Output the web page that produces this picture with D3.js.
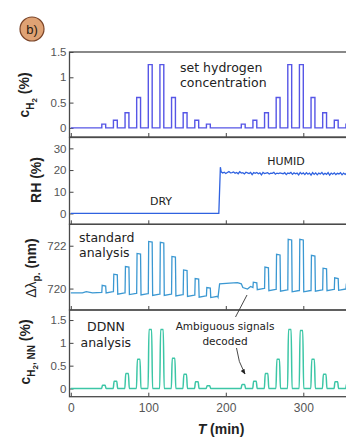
<!DOCTYPE html>
<html>
<head>
<meta charset="utf-8">
<script src="https://cdn.jsdelivr.net/npm/d3@7"></script>
<style>
  body { margin: 0; background: #fff; }
  svg { display: block; }
</style>
</head>
<body>
<div id="chart"></div>
<script>
// pulse schedule (min) and set hydrogen concentration (%)
const pulseStart = [40, 55, 70, 85, 100, 115, 130, 145, 160, 175, 220, 235, 250, 265, 280, 295, 310, 325, 340, 355]
const setH2 = [0.075, 0.15, 0.3, 0.6, 1.25, 1.25, 0.6, 0.3, 0.15, 0.075, 0.075, 0.15, 0.3, 0.6, 1.25, 1.25, 0.6, 0.3, 0.15, 0.075]
// DDNN decoded concentration (%)
const nnH2 = [0.07, 0.16, 0.33, 0.64, 1.29, 1.29, 0.66, 0.31, 0.15, 0.06, 0.09, 0.16, 0.33, 0.64, 1.29, 1.27, 0.64, 0.31, 0.15, 0.1]

// relative humidity
const rhDry = [[0, 0], [191, 0]]
const rhStep = [193, 21.3]
const rhHumidStart = 194
const rhHumidStep = 2
const rhHumid = [19.2, 18.6, 19.0, 18.4, 18.9, 19.3, 18.7, 18.8, 19.1, 18.5,
  18.9, 18.3, 19.2, 18.6, 18.8, 18.2, 19.0, 18.7, 18.4, 18.9,
  17.9, 18.8, 18.5, 18.9, 18.3, 18.7, 17.8, 18.9, 18.4, 18.6,
  18.8, 18.2, 18.6, 18.5, 18.9, 18.1, 18.6, 18.4, 18.7, 18.5,
  18.3, 18.8, 17.9, 18.6, 18.4, 18.9, 18.0, 18.7, 18.3, 18.6,
  17.8, 18.9, 18.2, 18.7, 17.9, 18.8, 18.1, 18.6, 17.7, 18.8,
  18.0, 18.7, 17.8, 18.6, 18.2, 18.9, 17.9, 18.5, 18.0, 18.8,
  17.7, 18.6, 18.1, 18.7, 17.9, 18.5, 18.2, 18.8, 17.8, 18.6,
  18.0, 18.7, 17.9, 18.5]

// standard analysis: peak wavelength (nm)
const stdLead = [[0, 719.8], [15, 719.8], [20, 719.86], [28, 719.8], [40, 719.82]]
const std1Start = [40, 55, 70, 85, 100, 115, 130, 145, 160, 175]
const std1Top = [720.15, 720.67, 721.03, 721.64, 722.2, 722.16, 721.5, 720.87, 720.47, 720.05]
const std1Base = [719.8, 719.74, 719.72, 719.7, 719.68, 719.68, 719.66, 719.63, 719.6, 719.58]
const stdGap = [[190, 719.6], [192, 720.22], [205, 720.25], [215, 720.28], [220, 720.22], [222, 720.05], [228, 719.98], [232, 720.1], [235, 720.05]]
const std2Start = [235, 250, 265, 280, 295, 310, 325, 340, 355]
const std2Top = [720.3, 721.0, 721.6, 722.3, 722.3, 721.55, 720.95, 720.5, 720.2]
const std2Base = [719.95, 719.9, 719.88, 719.85, 719.85, 719.88, 719.9, 719.92, 719.95]

const xTicks = [0, 100, 200, 300]

const width = 346, height = 437
const svg = d3.select("#chart").append("svg")
  .attr("width", width)
  .attr("height", height)

const x = d3.scaleLinear().domain([0, 360]).range([70.8, 349.8])
const frameLeft = 69.5, frameRight = 352

const panels = [
  { domain: [-0.18, 1.5], range: [137, 52], ticks: [0, 0.5, 1, 1.5] },
  { domain: [-5, 35], range: [224.3, 137.5], ticks: [0, 10, 20, 30] },
  { domain: [719, 723], range: [310, 224.3], ticks: [720, 722] },
  { domain: [-0.18, 1.72], range: [396.7, 310], ticks: [0, 0.5, 1, 1.5] }
]
panels.forEach(p => p.y = d3.scaleLinear().domain(p.domain).range(p.range))

const fmt = d => String(d)

panels.forEach(function (p, i) {
  const g = svg.append("g")
  // y axis with inward ticks
  const ya = g.append("g")
    .attr("transform", "translate(" + frameLeft + ",0)")
    .call(d3.axisLeft(p.y).tickValues(p.ticks).tickFormat(fmt).tickSize(-4).tickPadding(3))
  ya.select(".domain").remove()
  ya.selectAll("line").attr("stroke", "#444")
  ya.selectAll("text").attr("fill", "#555").style("font-family", "Liberation Sans, Arial, sans-serif").style("font-size", "11.5px")

  // x ticks at bottom of each panel
  const xa = g.append("g")
    .attr("transform", "translate(0," + p.range[0] + ")")
    .call(d3.axisBottom(x).tickValues(xTicks).tickSize(-4).tickPadding(7).tickFormat(i == 3 ? fmt : ""))
  xa.select(".domain").remove()
  xa.selectAll("line").attr("stroke", "#444")
  xa.selectAll("text").attr("fill", "#555").style("font-family", "Liberation Sans, Arial, sans-serif").style("font-size", "12px")

  g.append("rect")
    .attr("x", frameLeft)
    .attr("y", p.range[1])
    .attr("width", frameRight - frameLeft)
    .attr("height", p.range[0] - p.range[1])
    .attr("fill", "none")
    .attr("stroke", "#4a4a4a")
    .attr("stroke-width", 1.3)
})

// panel 1: set concentration (square pulses)
let setPts = [[0, 0]]
pulseStart.forEach(function (s, i) {
  setPts.push([s, 0], [s, setH2[i]], [s + 5, setH2[i]], [s + 5, 0])
})
setPts.push([360, 0])
svg.append("path")
  .datum(setPts)
  .attr("fill", "none")
  .attr("stroke", "#5656e6")
  .attr("stroke-width", 1.4)
  .attr("d", d3.line().x(d => x(d[0])).y(d => panels[0].y(d[1])))

// panel 2: RH
let rhPts = rhDry.concat([rhStep])
rhHumid.forEach((v, i) => rhPts.push([rhHumidStart + i * rhHumidStep, v]))
svg.append("path")
  .datum(rhPts)
  .attr("fill", "none")
  .attr("stroke", "#2f62e0")
  .attr("stroke-width", 1.3)
  .attr("d", d3.line().x(d => x(d[0])).y(d => panels[1].y(d[1])))

// panel 3: standard analysis
function stdPulses(starts, tops, bases, prev) {
  let pts = []
  starts.forEach(function (s, i) {
    pts.push([s, prev], [s + 0.5, tops[i]], [s + 5, tops[i] - 0.03], [s + 5.6, bases[i]], [s + 14.5, bases[i] + 0.06])
    prev = bases[i] + 0.06
  })
  return pts
}
let stdPts = stdLead.slice(0, -1)
  .concat(stdPulses(std1Start, std1Top, std1Base, 719.82))
  .concat(stdGap)
  .concat(stdPulses(std2Start, std2Top, std2Base, 720.05))
svg.append("path")
  .datum(stdPts.filter(d => d[0] <= 362))
  .attr("fill", "none")
  .attr("stroke", "#3b98d2")
  .attr("stroke-width", 1.3)
  .attr("d", d3.line().x(d => x(d[0])).y(d => panels[2].y(d[1])))

// panel 4: DDNN decoded (rounded, flat-topped pulses)
let nnPts = [[0, 0]]
pulseStart.forEach(function (s, i) {
  nnPts.push([s - 0.3, 0], [s + 0.9, nnH2[i]], [s + 4.3, nnH2[i]], [s + 5.5, 0])
})
nnPts.push([360, 0])
svg.append("path")
  .datum(nnPts)
  .attr("fill", "none")
  .attr("stroke", "#3cc6a6")
  .attr("stroke-width", 1.5)
  .attr("d", d3.line().curve(d3.curveMonotoneX).x(d => x(d[0])).y(d => panels[3].y(d[1])))

// annotations
const annFont = "DejaVu Sans, Verdana, sans-serif"
function multiText(xp, yp, lines, size, anchor) {
  const t = svg.append("text")
    .attr("x", xp).attr("y", yp)
    .attr("text-anchor", anchor || "start")
    .attr("fill", "#222")
    .style("font-family", annFont)
    .style("font-size", size + "px")
  lines.forEach((l, i) => t.append("tspan").attr("x", xp).attr("dy", i == 0 ? 0 : size * 1.2).text(l))
}
multiText(180, 72, ["set hydrogen", "concentration"], 12.5)
multiText(79, 242, ["standard", "analysis"], 12.5)
multiText(87, 331, ["DDNN"], 12.5)
multiText(80.5, 347, ["analysis"], 12.5)
multiText(286, 165, ["HUMID"], 11, "middle")
multiText(161, 205, ["DRY"], 11, "middle")
multiText(225, 330, ["Ambiguous signals"], 10.5, "middle")
multiText(225, 345, ["decoded"], 10.5, "middle")

svg.append("defs").append("marker")
  .attr("id", "arr")
  .attr("viewBox", "0 0 10 10")
  .attr("refX", 9).attr("refY", 5)
  .attr("markerWidth", 6).attr("markerHeight", 6)
  .attr("orient", "auto")
  .append("path").attr("d", "M0,1 L10,5 L0,9 z").attr("fill", "#222")

svg.append("path")
  .attr("d", "M235.5,317 L247,295")
  .attr("stroke", "#333").attr("stroke-width", 0.9).attr("fill", "none")
svg.append("path")
  .attr("d", "M236.5,348 Q238,362 245,374")
  .attr("stroke", "#333").attr("stroke-width", 0.9).attr("fill", "none")
  .attr("marker-end", "url(#arr)")

// y axis titles
const labFont = "Liberation Sans, Arial, sans-serif"
function yTitle(xp, yp, build) {
  const t = svg.append("text")
    .attr("transform", "translate(" + xp + "," + yp + ") rotate(-90)")
    .attr("text-anchor", "middle")
    .attr("fill", "#222")
    .style("font-family", labFont)
    .style("font-size", "14px")
    .style("font-weight", "bold")
  build(t)
}
yTitle(29, 95, function (t) {
  t.append("tspan").text("c")
  t.append("tspan").attr("dy", 5).style("font-size", "10px").text("H")
  t.append("tspan").attr("dy", 3).style("font-size", "8px").text("2")
  t.append("tspan").attr("dy", -8).text(" (%)")
})
yTitle(41, 180, t => t.text("RH (%)"))
yTitle(36, 268, function (t) {
  t.append("tspan").style("font-weight", "normal").text("Δλ")
  t.append("tspan").attr("dy", 4).style("font-size", "10px").text("p.")
  t.append("tspan").attr("dy", -4).text(" (nm)")
})
yTitle(30, 352, function (t) {
  t.append("tspan").text("c")
  t.append("tspan").attr("dy", 5).style("font-size", "10px").text("H")
  t.append("tspan").attr("dy", 3).style("font-size", "8px").text("2")
  t.append("tspan").attr("dy", -3).style("font-size", "10px").text(", NN")
  t.append("tspan").attr("dy", -5).text(" (%)")
})

// x axis title
const xt = svg.append("text")
  .attr("x", 221).attr("y", 434)
  .attr("text-anchor", "middle")
  .attr("fill", "#222")
  .style("font-family", labFont)
  .style("font-size", "14px")
  .style("font-weight", "bold")
xt.append("tspan").style("font-style", "italic").text("T")
xt.append("tspan").text(" (min)")

// panel tag
svg.append("circle")
  .attr("cx", 32).attr("cy", 29).attr("r", 12)
  .attr("fill", "#dfa274")
  .attr("stroke", "#7a4428")
  .attr("stroke-width", 1.2)
svg.append("text")
  .attr("x", 32).attr("y", 34)
  .attr("text-anchor", "middle")
  .attr("fill", "#2a1a10")
  .style("font-family", labFont)
  .style("font-size", "13px")
  .text("b)")
</script>
</body>
</html>
